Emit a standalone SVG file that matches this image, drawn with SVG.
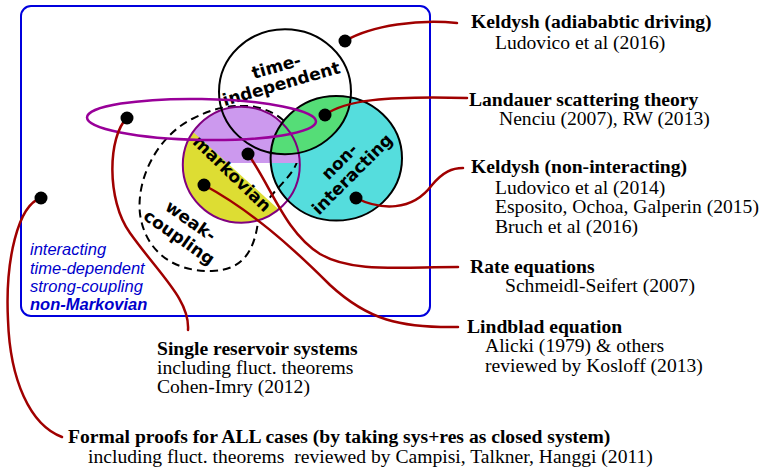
<svg xmlns="http://www.w3.org/2000/svg" width="763" height="467" viewBox="0 0 763 467">
<style>
.serif{font-family:"Liberation Serif","Times New Roman",serif;font-size:19.6px;fill:#000}
.b{font-weight:bold}
.lbl{font-family:"DejaVu Sans",sans-serif;font-weight:bold;font-size:17px;fill:#000;text-anchor:middle}
.blue{font-family:"Liberation Sans",Arial,sans-serif;font-style:italic;font-size:16.5px;fill:#0000cc}
.con{fill:none;stroke:#a00000;stroke-width:2.5;stroke-linecap:round}
.dot{fill:#000}
.ring{fill:none;stroke:#000;stroke-width:2}
</style>
<defs>
<clipPath id="clipMk"><ellipse cx="241.3" cy="164.7" rx="58.5" ry="58"/></clipPath>
<clipPath id="clipTi"><ellipse cx="285" cy="91.7" rx="66" ry="62.5"/></clipPath>
</defs>

<g id="frame">
<rect x="21" y="6" width="409" height="310" rx="10" fill="none" stroke="#0000dd" stroke-width="2"/>
<text class="blue" x="30" y="255">interacting</text>
<text class="blue" x="30" y="273.5">time-dependent</text>
<text class="blue" x="30" y="292">strong-coupling</text>
<text class="blue" x="30" y="310" font-weight="bold">non-Markovian</text>
</g>

<g id="non-interacting-fill">
<ellipse cx="336.3" cy="158.3" rx="65.7" ry="62.3" fill="#55dddd"/>
</g>

<g id="weak-coupling">
<path d="M240,106 C272,104 305,128 297,162 C290,182 264,194 258,222 C254,252 242,270 212,271 C172,272 145,250 140,214 C136,178 158,136 192,119 C208,111 222,106 240,106 Z" fill="none" stroke="#000" stroke-width="2" stroke-dasharray="8,5"/>
<g transform="translate(185,229) rotate(35)">
<text class="lbl" x="0" y="-4">weak-</text>
<text class="lbl" x="0" y="16">coupling</text>
</g>
</g>

<g id="markovian">
<rect x="180" y="100" width="125" height="63" fill="#cc99ee" clip-path="url(#clipMk)"/>
<g id="landauer-region">
<ellipse cx="336.3" cy="158.3" rx="65.7" ry="62.3" fill="#55dd77" clip-path="url(#clipTi)"/>
</g>
<polygon points="150,93 350,274 150,274" fill="#dddd33" clip-path="url(#clipMk)"/>
<ellipse cx="241.3" cy="164.7" rx="58.5" ry="58" fill="none" stroke="#800080" stroke-width="2"/>
<g transform="translate(228,178) rotate(44)"><text class="lbl" x="0" y="0">markovian</text></g>
</g>

<g id="time-independent">
<ellipse class="ring" cx="285" cy="91.7" rx="66" ry="62.5"/>
<g transform="translate(279,76) rotate(-16)">
<text class="lbl" x="0" y="-4">time-</text>
<text class="lbl" x="0" y="14">independent</text>
</g>
</g>

<g id="non-interacting">
<ellipse class="ring" cx="336.3" cy="158.3" rx="65.7" ry="62.3"/>
<g transform="translate(345,167) rotate(-45)">
<text class="lbl" x="0" y="-2">non-</text>
<text class="lbl" x="0" y="16">interacting</text>
</g>
</g>

<g id="single-reservoir">
<ellipse cx="201.5" cy="119.5" rx="114.5" ry="20.5" transform="rotate(1 201.5 119.5)" fill="none" stroke="#990099" stroke-width="2.5"/>
</g>

<g id="connectors">
<path class="con" d="M345,41 C372,25 420,19 457,23"/>
<path class="con" d="M325,115 C345,100 385,96 467,98"/>
<path class="con" d="M356,198 C380,210 412,212 432,185 C443,172 452,168 463,168"/>
<path class="con" d="M248,154 C272,188 285,232 320,254 C352,273 400,267 458,267"/>
<path class="con" d="M204,185 C250,210 290,245 330,285 C368,320 400,328 458,327"/>
<path class="con" d="M127,118 C108,136 106,200 130,233 C160,275 190,300 188,330"/>
<path class="con" d="M41,198 C18,205 5,260 8,320 C10,380 30,425 62,437"/>
</g>

<g id="dots">
<circle class="dot" cx="345" cy="41" r="6.5"/>
<circle class="dot" cx="325" cy="115" r="6.5"/>
<circle class="dot" cx="127" cy="118" r="6.5"/>
<circle class="dot" cx="248" cy="154" r="6.5"/>
<circle class="dot" cx="204" cy="185" r="6.5"/>
<circle class="dot" cx="356" cy="198" r="6.5"/>
<circle class="dot" cx="41" cy="198" r="6.5"/>
</g>

<g id="keldysh-adiabatic">
<text class="serif b" x="471" y="28">Keldysh (adiababtic driving)</text>
<text class="serif" x="495" y="49">Ludovico et al (2016)</text>
</g>
<g id="landauer">
<text class="serif b" x="469" y="106">Landauer scattering theory</text>
<text class="serif" x="499" y="125">Nenciu (2007), RW (2013)</text>
</g>
<g id="keldysh-noninteracting">
<text class="serif b" x="471" y="173">Keldysh (non-interacting)</text>
<text class="serif" x="495" y="194">Ludovico et al (2014)</text>
<text class="serif" x="495" y="213">Esposito, Ochoa, Galperin (2015)</text>
<text class="serif" x="495" y="233">Bruch et al (2016)</text>
</g>
<g id="rate">
<text class="serif b" x="470" y="273">Rate equations</text>
<text class="serif" x="505" y="292">Schmeidl-Seifert (2007)</text>
</g>
<g id="lindblad">
<text class="serif b" x="467" y="333">Lindblad equation</text>
<text class="serif" x="485" y="352">Alicki (1979) &amp; others</text>
<text class="serif" x="485" y="372">reviewed by Kosloff (2013)</text>
</g>
<g id="single">
<text class="serif b" x="157" y="355">Single reservoir systems</text>
<text class="serif" x="157" y="374">including fluct. theorems</text>
<text class="serif" x="157" y="393">Cohen-Imry (2012)</text>
</g>
<g id="formal">
<text class="serif b" x="68" y="443">Formal proofs for ALL cases (by taking sys+res as closed system)</text>
<text class="serif" x="88" y="463" style="white-space:pre">including fluct. theorems  reviewed by Campisi, Talkner, Hanggi (2011)</text>
</g>
</svg>
